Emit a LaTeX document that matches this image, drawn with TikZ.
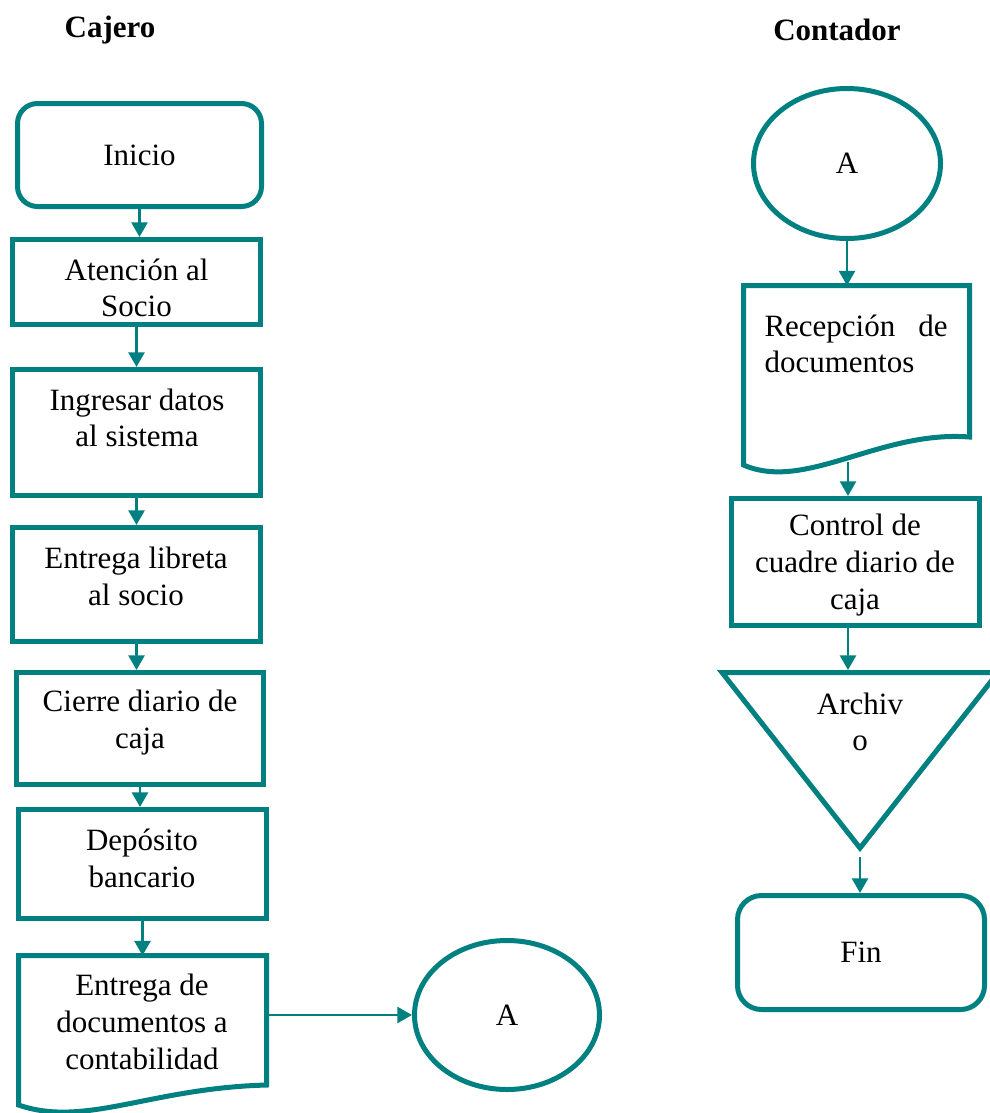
\documentclass[tikz,border=0pt]{standalone}
\usepackage{fontspec}
\setmainfont{Liberation Serif}
\usetikzlibrary{shapes.geometric,arrows.meta}
\definecolor{verdeazul}{RGB}{0,128,128}
\begin{document}
\begin{tikzpicture}[x=0.75pt,y=-0.75pt,
            caja/.style={draw=verdeazul, line width=3.75pt, rectangle, inner sep=0pt},
            redonda/.style={caja, rounded corners=15pt, font=\fontsize{23.25pt}{27.5pt}\selectfont},
            documento/.style={rectangle, inner sep=0pt, outer sep=0pt},
            conector/.style={draw=verdeazul, line width=3.75pt, ellipse, inner sep=0pt, font=\fontsize{23.25pt}{27.5pt}\selectfont},
            texto/.style={align=center, inner sep=0pt, font=\fontsize{23.25pt}{27.5pt}\selectfont},
            titulo/.style={inner sep=0pt, font=\fontsize{23.25pt}{27.5pt}\selectfont\bfseries},
            linea/.style={draw=verdeazul, line width=3.75pt},
            flecha/.style={draw=verdeazul, line width=2pt, -{Triangle[width=12pt,length=11pt]}}]
            \useasboundingbox (0,0) rectangle (989,1113);
            \node[titulo] (cajero) at (110,30) {Cajero};
            \node[titulo] (contador) at (837,30) {Contador};
            % cajero
            \node[redonda, minimum width=183pt, minimum height=77.25pt] (inicio) at (139.5,155) {Inicio};
            \node[caja, minimum width=186pt, minimum height=63.75pt] (atencion) at (136.5,282) {};
            \node[texto] (atencion-t) at (136.5,288) {Atención al\\Socio};
            \node[caja, minimum width=186pt, minimum height=94.5pt] (ingresar) at (136.5,432.5) {};
            \node[texto] (ingresar-t) at (137,418) {Ingresar datos\\al sistema};
            \node[caja, minimum width=186pt, minimum height=85.5pt] (entrega) at (136.5,584.5) {};
            \node[texto] (entrega-t) at (136,576.5) {Entrega libreta\\al socio};
            \node[caja, minimum width=185.25pt, minimum height=84pt] (cierre) at (140,728.5) {};
            \node[texto] (cierre-t) at (140,722.5) {Cierre diario de\\caja};
            \node[caja, minimum width=186pt, minimum height=81.75pt] (deposito) at (142.5,864) {};
            \node[texto] (deposito-t) at (142,858.5) {Depósito\\bancario};
            \node[documento, minimum width=186pt, minimum height=112.1pt] (entregadoc) at (142.5,1030.25) {};
            \draw[linea] (entregadoc.north west) -- (entregadoc.north east) -- ++(0,129.5) .. controls (150,1088) and (85,1128) .. (entregadoc.south west) -- cycle;
            \node[texto] (entregadoc-t) at (142,1022) {Entrega de\\documentos a\\contabilidad};
            \node[conector, minimum width=138.75pt, minimum height=111.75pt] (conA1) at (507,1015) {A};
            \draw[flecha] (inicio.south) -- (inicio.south |- atencion.north);
            \draw[flecha] (atencion.south) -- (atencion.south |- ingresar.north);
            \draw[flecha] (ingresar.south) -- (ingresar.south |- entrega.north);
            \draw[flecha] (entrega.south) -- (entrega.south |- cierre.north);
            \draw[flecha] (cierre.south) -- (cierre.south |- deposito.north);
            \draw[flecha] (deposito.south) -- (deposito.south |- entregadoc.north);
            \draw[flecha] (entregadoc.east |- conA1.west) -- (conA1.west);
            % contador
            \node[conector, minimum width=140.25pt, minimum height=112.5pt] (conA2) at (847,163.5) {A};
            \node[documento, minimum width=169.5pt, minimum height=134.6pt] (recepcion) at (856.5,375.25) {};
            \draw[linea] (recepcion.north west) -- (recepcion.north east) -- ++(0,151.5) .. controls (880,430) and (805,492) .. (recepcion.south west) -- cycle;
            \node[texto, text width=137.25pt, align=left] (recepcion-t) at (856,344) {Recepción\hfill de\\documentos};
            \node[caja, minimum width=186pt, minimum height=95.25pt] (control) at (855.5,562) {};
            \node[texto] (control-t) at (855,565) {Control de\\cuadre diario de\\caja};
            \draw[linea] (722,672.5) -- (998,672.5) -- (860,848) -- cycle;
            \coordinate (archivo-arriba) at (848,670);
            \coordinate (archivo-abajo) at (860,857);
            \node[texto] (archivo-t) at (860,722) {Archiv\\o};
            \node[redonda, rounded corners=18pt, minimum width=185.25pt, minimum height=85.5pt] (fin) at (861,952.5) {Fin};
            \coordinate (ola-rec) at (848,462);
            \draw[flecha] (conA2.south) -- (conA2.south |- recepcion.north);
            \draw[flecha] (ola-rec) -- (ola-rec |- control.north);
            \draw[flecha] (archivo-arriba |- control.south) -- (archivo-arriba);
            \draw[flecha] (archivo-abajo) -- (archivo-abajo |- fin.north);
        \end{tikzpicture}
\end{document}
